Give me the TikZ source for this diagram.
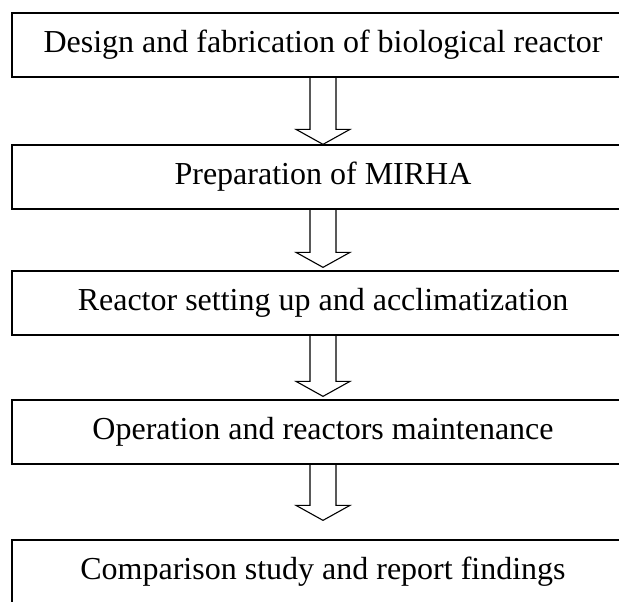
\documentclass[tikz,border=0pt]{standalone}
\usepackage{fontspec}
\setmainfont{Liberation Serif}
\usetikzlibrary{calc}

\tikzset{
  stage/.style={draw, line width=1.3pt, minimum width=622pt, minimum height=64pt,
    inner sep=0pt, font=\fontsize{32}{38}\selectfont},
  flowarrow/.style={draw, line width=1.1pt, line join=miter}
}

\begin{document}
\begin{tikzpicture}[x=1pt, y=-1pt]
    % Page frame, the boxes run past the right and bottom edges
    \useasboundingbox (0,0) rectangle (619,602);
    \clip (0,0) rectangle (619,602);
    \fill[white] (0,0) rectangle (619,602);

    % Draw the five stages
    \node[stage] (b1) at (323,45) {Design and fabrication of biological reactor};
    \node[stage] (b2) at (323,177) {Preparation of MIRHA};
    \node[stage] (b3) at (323,303) {Reactor setting up and acclimatization};
    \node[stage] (b4) at (323,432) {Operation and reactors maintenance};
    \node[stage] (b5) at (323,572) {Comparison study and report findings};

    % Draw hollow block arrows (\g = space left above the next box)
    \foreach \a/\b/\g in {b1/b2/0, b2/b3/3, b3/b4/3, b4/b5/19} {
        \coordinate (tip) at ($(\b.north)+(0,-\g)$);
        \draw[flowarrow] ($(\a.south)+(-13,0)$) -- ($(tip)+(-13,-15)$)
            -- ($(tip)+(-27,-15)$) -- (tip) -- ($(tip)+(27,-15)$)
            -- ($(tip)+(13,-15)$) -- ($(\a.south)+(13,0)$);
    }
\end{tikzpicture}
\end{document}
